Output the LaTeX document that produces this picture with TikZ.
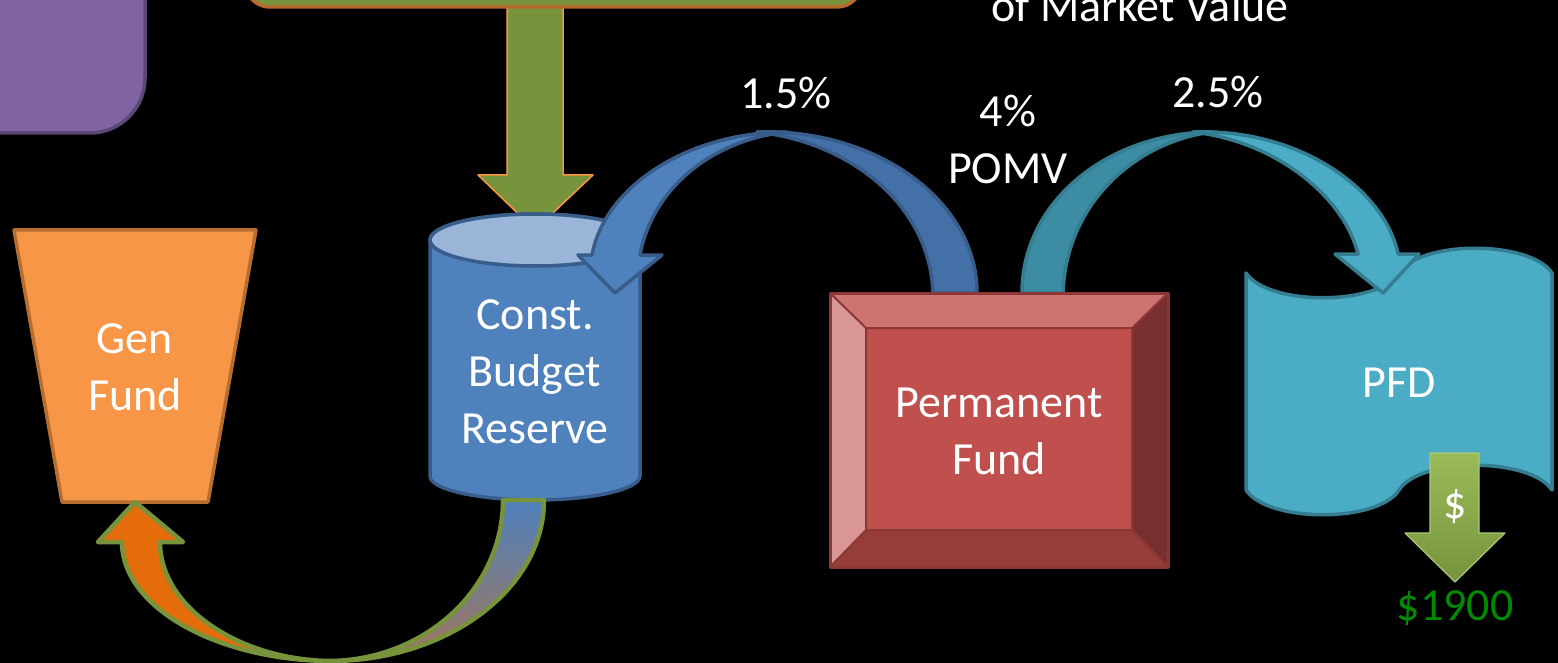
\documentclass[tikz,border=0pt]{standalone}
\usepackage{fontspec}
\setmainfont{Carlito}
\usetikzlibrary{positioning}
\definecolor{pfPurple}{HTML}{8064A2}
\definecolor{pfPurpleLine}{HTML}{5C4776}
\definecolor{pfOlive}{HTML}{77933C}
\definecolor{pfRust}{HTML}{B8692E}
\definecolor{pfOrange}{HTML}{F79646}
\definecolor{pfOrangeLine}{HTML}{B66D31}
\definecolor{pfDeepOrange}{HTML}{E46C0A}
\definecolor{pfBlue}{HTML}{4F81BD}
\definecolor{pfBlueDark}{HTML}{4470A8}
\definecolor{pfBlueTop}{HTML}{9AB5D8}
\definecolor{pfBlueLine}{HTML}{385D8A}
\definecolor{pfTeal}{HTML}{4BACC6}
\definecolor{pfTealDark}{HTML}{3C8DA3}
\definecolor{pfTealLine}{HTML}{357D91}
\definecolor{pfRed}{HTML}{C0504D}
\definecolor{pfRedTop}{HTML}{CD7371}
\definecolor{pfRedLeft}{HTML}{D99694}
\definecolor{pfRedRight}{HTML}{772F2F}
\definecolor{pfRedBottom}{HTML}{963C3A}
\definecolor{pfRedLine}{HTML}{8C3836}
\definecolor{pfLime}{HTML}{9BBB59}
\definecolor{pfLimeLine}{HTML}{A9C97A}
\definecolor{pfMoney}{HTML}{008A00}

\begin{document}
\begin{tikzpicture}[x=1pt,y=-1pt,line join=round]
\useasboundingbox (0,0) rectangle (1558,663);
\path[fill=black] (0,0) rectangle (1558,663);
\clip (0,0) rectangle (1558,663);
\tikzset{lbl/.style={text=white,font=\fontsize{46}{57}\selectfont,align=center,inner sep=0pt},rim/.style={line width=3.5pt}}
\path[fill=pfPurple,draw=pfPurpleLine,rim,rounded corners=55pt] (-60,-60) rectangle (145,133);
\path[fill=pfOlive,draw=pfOrange,line width=1.5pt] (507,-5) -- (507,175) -- (478,175) -- (535,230) -- (593,175) -- (563,175) -- (563,-5) -- cycle;
\path[fill=pfOlive,draw=pfRust,rim,rounded corners=25pt] (245,-60) rectangle (862,7);
\path[fill=pfOrange,draw=pfOrangeLine,rim] (14,230) -- (256,230) -- (208,502) -- (62,502) -- cycle;
\node[lbl] (genfund) at (135,367) {Gen\\Fund};
\path[fill=pfBlue,draw=pfBlueLine,rim] (430,240) -- (430,476) arc (180:0:105 and 24) -- (640,240) arc (360:180:105 and 26) -- cycle;
\path[fill=pfBlueTop,draw=pfBlueLine,rim] (535,240) ellipse (105 and 26);
\node[lbl] (cbr) at (535,372) {Const.\\Budget\\Reserve};
\path[top color=pfBlue,bottom color=pfDeepOrange!55!pfBlue] (544,500) .. controls (544,590) and (446,661) .. (330,661) .. controls (425,660) and (503,589) .. (503,500) -- cycle;
\path[fill=pfDeepOrange] (122,542) .. controls (122,607) and (216,660) .. (330,661) .. controls (239,660) and (160,607) .. (160,542) -- (183,542) -- (135,502) -- (98,542) -- cycle;
\draw[pfOlive,line width=4.5pt] (122,542) .. controls (122,607) and (216,660) .. (330,661) .. controls (446,661) and (544,590) .. (544,500) -- (503,500) .. controls (503,589) and (425,660) .. (330,661) .. controls (239,660) and (160,607) .. (160,542) -- (183,542) -- (135,502) -- (98,542) -- cycle;
\path[fill=pfBlueDark,draw=pfBlueLine,rim] (757,132) .. controls (875,128) and (977,200) .. (977,293) -- (933,293) .. controls (930,205) and (850,142) .. (757,132) -- cycle;
\path[fill=pfBlue,draw=pfBlueLine,rim] (592,255) .. controls (605,185) and (690,132) .. (787,132) .. controls (710,140) and (652,190) .. (640,255) -- (662,255) -- (615,293) -- (578,255) -- cycle;
\node[lbl,anchor=base] (lowpct) at (786,109) {1.5\%};
\path[fill=pfTeal,draw=pfTealLine,rim] (1246,273) .. controls (1268,306) and (1378,306) .. (1399,273) .. controls (1420,240) and (1530,240) .. (1552,273) -- (1552,490) .. controls (1530,457) and (1420,457) .. (1399,490) .. controls (1378,523) and (1268,523) .. (1246,490) -- cycle;
\node[lbl,anchor=base] (pfd) at (1399,397) {PFD};
\path[fill=pfTealDark,draw=pfTealLine,rim] (1022,293) .. controls (1022,200) and (1110,132) .. (1213,132) .. controls (1140,140) and (1066,200) .. (1063,293) -- cycle;
\path[fill=pfTeal,draw=pfTealLine,rim] (1193,132) .. controls (1300,128) and (1385,190) .. (1398,254) -- (1419,254) -- (1383,293) -- (1335,254) -- (1358,254) .. controls (1345,200) and (1280,142) .. (1193,132) -- cycle;
\node[lbl,anchor=base] (highpct) at (1218,108) {2.5\%};
\path[fill=pfRed] (866,328) rectangle (1132,530);
\path[fill=pfRedTop] (830,293) -- (1168,293) -- (1132,328) -- (866,328) -- cycle;
\path[fill=pfRedLeft] (830,293) -- (866,328) -- (866,530) -- (830,567) -- cycle;
\path[fill=pfRedRight] (1168,293) -- (1168,567) -- (1132,530) -- (1132,328) -- cycle;
\path[fill=pfRedBottom] (830,567) -- (1168,567) -- (1132,530) -- (866,530) -- cycle;
\draw[pfRedLine,line width=2pt] (866,328) rectangle (1132,530) (830,293) -- (866,328) (1168,293) -- (1132,328) (830,567) -- (866,530) (1168,567) -- (1132,530);
\draw[pfRedLine,line width=3pt] (830,293) rectangle (1168,567);
\node[lbl] (permfund) at (999,431) {Permanent\\Fund};
\node[lbl] (pomv) at (1008,139) {4\%\\POMV};
\node[lbl,anchor=base] (mktval) at (1140,22) {of Market Value};
\path[top color=pfLime,bottom color=pfOlive,draw=pfLimeLine,line width=1.2pt] (1430,453) -- (1479,453) -- (1479,533) -- (1505,533) -- (1455,582) -- (1405,533) -- (1430,533) -- cycle;
\node[lbl] (dollar) at (1455,507) {\$};
\node[lbl,anchor=base,text=pfMoney] (payout) at (1455,620) {\$1900};
\end{tikzpicture}
\end{document}
